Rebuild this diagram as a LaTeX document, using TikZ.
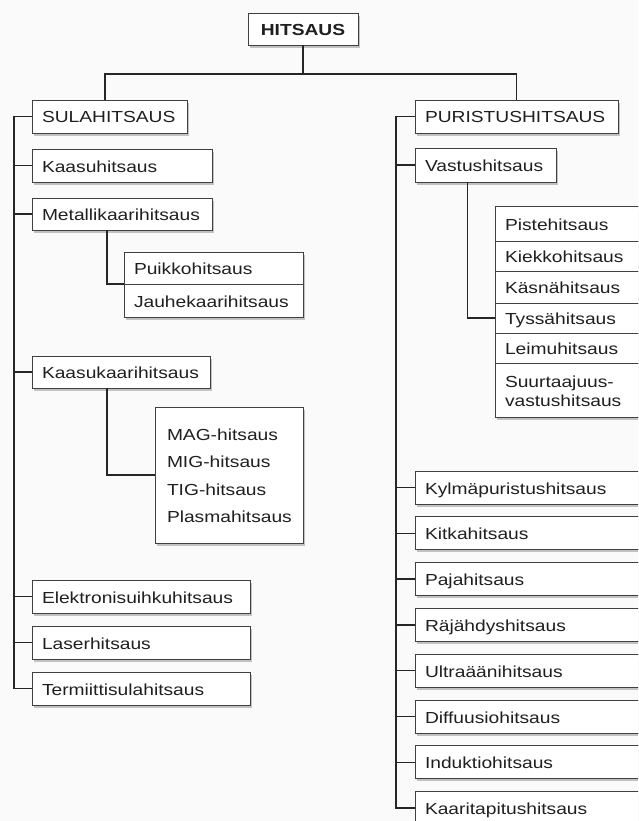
\documentclass[tikz,border=0pt]{standalone}
\usepackage{fontspec}
\newfontfamily\diafont[FakeStretch=1.2]{Liberation Sans}
\usetikzlibrary{positioning,shadows}

\begin{document}
\begin{tikzpicture}[
		x=1pt, y=-1pt,
		weldbox/.style={
			draw=black!75,
			line width=0.9pt,
			fill=white,
			drop shadow={shadow xshift=1.8pt, shadow yshift=-2.6pt, opacity=0.45},
			anchor=north west,
			outer sep=0pt,
			inner xsep=10pt,
			inner ysep=0pt,
			minimum height=33pt,
			align=left,
			text=black!88,
			execute at begin node={\rule{0pt}{16.5pt}},
			execute at end node={\rule[-3.5pt]{0pt}{3.5pt}},
			font=\diafont\fontsize{16}{19}\selectfont
		},
		link/.style={draw=black!85, line width=1.4pt}
	]
		\useasboundingbox (0,0) rectangle (638,821);
		\clip (0,0) rectangle (638,821);
		\fill[black!2] (0,0) rectangle (638,821);

		% top
		\node[weldbox, text width=90pt, align=center, minimum height=32pt,
			font=\diafont\fontsize{16}{19}\selectfont\bfseries] (hitsaus) at (248,13) {HITSAUS};

		% left branch
		\node[weldbox, text width=135pt] (sulahitsaus) at (32,100) {SULAHITSAUS};
		\node[weldbox, text width=160pt, below=16pt of sulahitsaus.south west, anchor=north west] (kaasuhitsaus) {Kaasuhitsaus};
		\node[weldbox, text width=160pt, minimum height=32pt, below=16pt of kaasuhitsaus.south west, anchor=north west] (metallikaarihitsaus) {Metallikaarihitsaus};
		\node[weldbox, text width=159pt, minimum height=32pt] (puikkohitsaus) at (124,252) {Puikkohitsaus};
		\node[weldbox, text width=159pt, below=0pt of puikkohitsaus.south west, anchor=north west] (jauhekaarihitsaus) {Jauhekaarihitsaus};
		\node[weldbox, text width=158pt, minimum height=32pt] (kaasukaarihitsaus) at (32,356) {Kaasukaarihitsaus};
		\node[weldbox, text width=124pt, inner xsep=12pt, minimum height=136pt,
			font=\diafont\fontsize{16}{27.5}\selectfont] (kaasukaarilajit) at (155,407) {
			MAG-hitsaus\\
			MIG-hitsaus\\
			TIG-hitsaus\\
			Plasmahitsaus
		};
		\node[weldbox, text width=198pt] (elektronisuihkuhitsaus) at (32,580) {Elektronisuihkuhitsaus};
		\node[weldbox, text width=198pt, below=13pt of elektronisuihkuhitsaus.south west, anchor=north west] (laserhitsaus) {Laserhitsaus};
		\node[weldbox, text width=198pt, below=13pt of laserhitsaus.south west, anchor=north west] (termiittisulahitsaus) {Termiittisulahitsaus};

		% right branch
		\node[weldbox, text width=183pt] (puristushitsaus) at (415,100) {PURISTUSHITSAUS};
		\node[weldbox, text width=121pt, minimum height=34pt, below=15pt of puristushitsaus.south west, anchor=north west] (vastushitsaus) {Vastushitsaus};
		\node[weldbox, text width=140pt, minimum height=35pt] (pistehitsaus) at (495,206) {Pistehitsaus};
		\node[weldbox, text width=140pt, minimum height=30pt, below=0pt of pistehitsaus.south west, anchor=north west] (kiekkohitsaus) {Kiekkohitsaus};
		\node[weldbox, text width=140pt, minimum height=32pt, below=0pt of kiekkohitsaus.south west, anchor=north west] (kasnahitsaus) {Käsnähitsaus};
		\node[weldbox, text width=140pt, minimum height=30pt, below=0pt of kasnahitsaus.south west, anchor=north west] (tyssahitsaus) {Tyssähitsaus};
		\node[weldbox, text width=140pt, minimum height=30pt, below=0pt of tyssahitsaus.south west, anchor=north west] (leimuhitsaus) {Leimuhitsaus};
		\node[weldbox, text width=140pt, minimum height=54pt, below=0pt of leimuhitsaus.south west, anchor=north west] (suurtaajuushitsaus) {Suurtaajuus-\\vastushitsaus};

		\node[weldbox, text width=220pt] (kylmapuristushitsaus) at (415,471) {Kylmäpuristushitsaus};
		\node[weldbox, text width=220pt, below=12.8pt of kylmapuristushitsaus.south west, anchor=north west] (kitkahitsaus) {Kitkahitsaus};
		\node[weldbox, text width=220pt, below=12.8pt of kitkahitsaus.south west, anchor=north west] (pajahitsaus) {Pajahitsaus};
		\node[weldbox, text width=220pt, below=12.8pt of pajahitsaus.south west, anchor=north west] (rajahdyshitsaus) {Räjähdyshitsaus};
		\node[weldbox, text width=220pt, below=12.8pt of rajahdyshitsaus.south west, anchor=north west] (ultraaanihitsaus) {Ultraäänihitsaus};
		\node[weldbox, text width=220pt, below=12.8pt of ultraaanihitsaus.south west, anchor=north west] (diffuusiohitsaus) {Diffuusiohitsaus};
		\node[weldbox, text width=220pt, below=12.8pt of diffuusiohitsaus.south west, anchor=north west] (induktiohitsaus) {Induktiohitsaus};
		\node[weldbox, text width=220pt, below=12.8pt of induktiohitsaus.south west, anchor=north west] (kaaritapitushitsaus) {Kaaritapitushitsaus};

		% connectors
		\draw[link] (hitsaus.south) -- ++(0,29) -| ([xshift=-4.5pt]sulahitsaus.north);
		\draw[link] (hitsaus.south) -- ++(0,29) -| (puristushitsaus.north);

		\draw[link] (sulahitsaus.west) -- ++(-18,0) |- (termiittisulahitsaus.west);
		\foreach \lajike in {kaasuhitsaus, metallikaarihitsaus, kaasukaarihitsaus, elektronisuihkuhitsaus, laserhitsaus}
			\draw[link] (\lajike.west) -- ++(-18,0);
		\draw[link] ([xshift=-15pt]metallikaarihitsaus.south) |- (puikkohitsaus.south west);
		\draw[link] ([xshift=-14pt]kaasukaarihitsaus.south) |- (kaasukaarilajit.west);

		\draw[link] (puristushitsaus.west) -- ++(-19,0) |- (kaaritapitushitsaus.west);
		\foreach \lajike in {vastushitsaus, kylmapuristushitsaus, kitkahitsaus, pajahitsaus, rajahdyshitsaus, ultraaanihitsaus, diffuusiohitsaus, induktiohitsaus}
			\draw[link] (\lajike.west) -- ++(-19,0);
		\draw[link] ([xshift=-18pt]vastushitsaus.south) |- (tyssahitsaus.west);
	\end{tikzpicture}
\end{document}
